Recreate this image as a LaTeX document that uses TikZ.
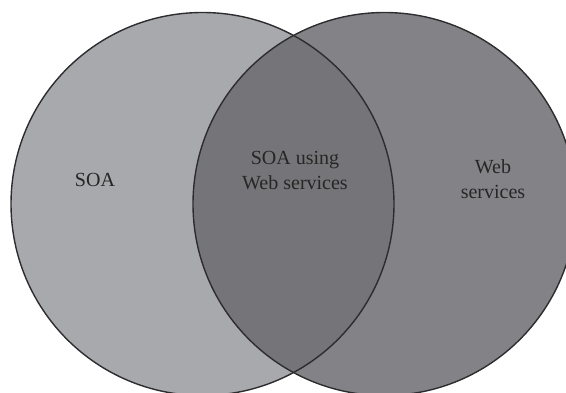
\documentclass[tikz,border=0pt]{standalone}
\usepackage{fontspec}
\setmainfont{Liberation Serif}
\definecolor{leftgray}{RGB}{168,169,173}
\definecolor{rightgray}{RGB}{131,131,135}
\definecolor{midgray}{RGB}{117,117,121}
\definecolor{edgecol}{RGB}{45,45,48}
\tikzset{
  venn/.style={circle, minimum size=383pt, inner sep=0pt, outer sep=0pt},
  vedge/.style={draw=edgecol, line width=1.4pt},
  lbl/.style={align=center, text=black!85, font=\fontsize{20}{25}\selectfont, inner sep=0pt}
}
\begin{document}
\begin{tikzpicture}[x=1pt,y=1pt]
\useasboundingbox (0,0) rectangle (566,393);
\clip (0,0) rectangle (566,393);
\coordinate (lc) at (202.5,189);
\coordinate (rc) at (384.5,189);
\node[venn, fill=leftgray] (soa) at (lc) {};
\node[venn, fill=rightgray] (ws) at (rc) {};
\begin{scope}
  \clip (lc) circle (191.5);
  \fill[midgray] (rc) circle (191.5);
\end{scope}
\node[venn, vedge] (soaedge) at (lc) {};
\node[venn, vedge] (wsedge) at (rc) {};
\node[lbl] (t1) at (95,213) {SOA};
\node[lbl] (t2) at (295,222) {SOA using\\Web services};
\node[lbl] (t3) at (493,214) {Web\\services};
\end{tikzpicture}
\end{document}
